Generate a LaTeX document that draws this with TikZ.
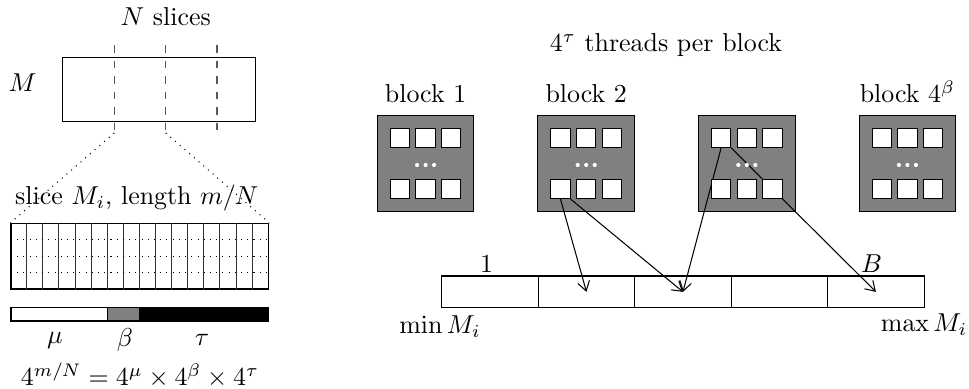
\documentclass[tikz,border=0pt]{standalone}
\usepackage{amsmath}
\usepackage{tikz}
\usetikzlibrary{arrows.meta, positioning, calc}

\pgfdeclarelayer{back}
\pgfdeclarelayer{wires}
\pgfsetlayers{back,wires,main}

\newcommand{\pxu}{0.386pt}

\begin{document}
\begin{tikzpicture}[
  x=\pxu, y=-\pxu,
  blockbox/.style={draw, fill=gray, minimum size=96.7*\pxu, inner sep=0pt},
  thread/.style={draw, fill=white, minimum size=19.3*\pxu, inner sep=0pt},
  bucket/.style={draw, minimum width=96.5*\pxu, minimum height=31.7*\pxu, inner sep=0pt},
  cutline/.style={draw=black!65, dashed},
  zoomline/.style={dotted},
  gridline/.style={draw=black!80, line width=0.3pt},
  hitarrow/.style={-{Straight Barb[length=3.6pt, width=4.6pt]}}
]
\useasboundingbox (0,0) rectangle (969,389);

% --- array M, cut into N slices ---
\node at (165.7,17) {$N$ slices};
\node at (22.7,82.7) {$M$};
\draw (62.7,57.3) rectangle (255.7,121.7);
\foreach \x [count=\i] in {114.3,165.7,217}{
  \draw[cutline] (\x,45) -- (\x,133) coordinate (cut\i);
}

% --- one slice, zoomed in ---
\node[draw, minimum width=257.7*\pxu, minimum height=65.7*\pxu, inner sep=0pt] (slice) at (139.85,256.15) {};
\foreach \i in {1,...,15}{
  \draw[gridline] ($(slice.north west)+(\i*16.106,0)$) -- ($(slice.south west)+(\i*16.106,0)$);
}
\foreach \y in {239.7,256.15,272.6}{
  \draw[zoomline] (11,\y) -- (268.7,\y);
}
\node at (136.7,198) {slice $M_i$, length $m/N$};
\draw[zoomline] (cut1) -- (slice.north west);
\draw[zoomline] (cut2) -- (slice.north east);

% --- split of the bits ---
\draw[fill=white] (11,307.3) rectangle (107.6,321);
\draw[fill=gray] (107.6,307.3) rectangle (139.85,321);
\draw[fill=black] (139.85,307.3) rectangle (268.7,321);
\node at (55,340) {$\mu$};
\node at (125,340) {$\beta$};
\node at (202,340) {$\tau$};
\node at (140,375) {$4^{m/N} = 4^{\mu} \times 4^{\beta} \times 4^{\tau}$};

% --- thread blocks ---
\node at (666,45) {$4^\tau$ threads per block};
\foreach \i in {1,...,4}{
  \pgfmathsetmacro{\cx}{425.6+(\i-1)*160.6}
  \begin{pgfonlayer}{back}
    \node[blockbox] (blk\i) at (\cx,163.4) {};
  \end{pgfonlayer}
  \foreach \dx/\c in {-25.7/l,0/m,25.7/r}{
    \node[thread] (blk\i-t\c) at (\cx+\dx,137.8) {};
    \node[thread] (blk\i-b\c) at (\cx+\dx,189) {};
  }
  \foreach \dx in {-8.5,0,8.5}{
    \fill[white] (\cx+\dx,165) circle (0.8pt);
  }
}
\node[above=1pt of blk1] {block 1};
\node[above=1pt of blk2] {block 2};
\node[above=1pt of blk4] {block $4^{\beta}$};

% --- buckets ---
\foreach \k in {1,...,5}{
  \node[bucket] (bkt\k) at ({489.95+(\k-1)*96.5},291.85) {};
}
\node at (486.7,264) {1};
\node at (871.7,263.3) {$B$};
\node at (440,326.7) {$\min M_i$};
\node at (924,325) {$\max M_i$};

% threads writing to buckets
\begin{pgfonlayer}{wires}
\draw[hitarrow] (blk2-bl.south) -- (bkt2.center);
\draw[hitarrow] (blk2-bl.south east) -- (bkt3.center);
\draw[hitarrow] (blk3-tl.south) -- (bkt3.center);
\draw[hitarrow] (blk3-tl.south east) -- (bkt5.center);
\end{pgfonlayer}

\end{tikzpicture}
\end{document}
